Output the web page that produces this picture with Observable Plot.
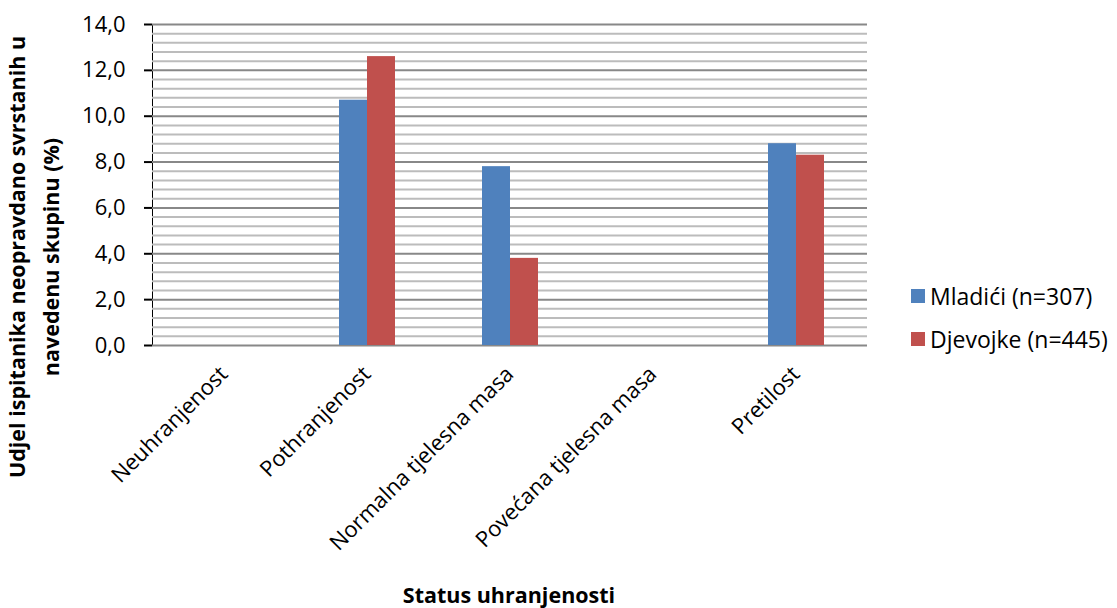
<!DOCTYPE html>
<html>
<head>
<meta charset="utf-8">
<script src="https://cdn.jsdelivr.net/npm/d3@7"></script>
<script src="https://cdn.jsdelivr.net/npm/@observablehq/plot@0.6"></script>
<style>
  html, body { margin: 0; padding: 0; background: #fff; }
  #wrap { position: relative; width: 1117px; height: 608px; font-family: "Open Sans", Lato, sans-serif; color: #000; }
  #wrap svg { position: absolute; left: 0; top: 0; }
  .ytitle { position: absolute; left: 34px; top: 257px; width: 640px; transform: translate(-50%, -50%) rotate(-90deg); text-align: center; font-weight: bold; font-size: 21.5px; line-height: 34px; white-space: nowrap; }
  .xtitle { position: absolute; left: 509px; top: 580px; transform: translateX(-50%); font-weight: bold; font-size: 21.5px; white-space: nowrap; }
  .legend { position: absolute; left: 911px; top: 281px; font-size: 23px; }
  .legend .item { display: flex; align-items: center; height: 30px; margin-bottom: 13px; white-space: nowrap; }
  .legend .sw { width: 14px; height: 14px; margin-right: 5px; }
</style>
</head>
<body>
<div id="wrap"></div>
<script>
const categories = ["Neuhranjenost", "Pothranjenost", "Normalna tjelesna masa", "Povećana tjelesna masa", "Pretilost"];
const seriesNames = ["Mladići (n=307)", "Djevojke (n=445)"];
const mladici = [0, 10.7, 7.8, 0, 8.8];
const djevojke = [0, 12.6, 3.8, 0, 8.3];
const seriesColors = ["#4F81BD", "#C0504D"];
const yTicks = [0, 2, 4, 6, 8, 10, 12, 14];
const yMinor = d3.range(0, 35).map(i => +(i * 0.4).toFixed(1)).filter(v => !yTicks.includes(v));
const yTitle = "Udjel ispitanika neopravdano svrstanih u\nnavedenu skupinu (%)";
const xTitle = "Status uhranjenosti";

const rows = [];
categories.forEach((c, i) => {
  rows.push({category: c, series: seriesNames[0], value: mladici[i]});
  rows.push({category: c, series: seriesNames[1], value: djevojke[i]});
});

const chart = Plot.plot({
  width: 1117,
  height: 608,
  marginLeft: 150,
  marginRight: 249,
  marginTop: 24,
  marginBottom: 263,
  style: {fontFamily: "'Open Sans', Lato, sans-serif", fontSize: "22px", color: "#000", background: "transparent", overflow: "visible"},
  fx: {domain: categories, padding: 0, label: null, tickRotate: -45, tickSize: 0, tickPadding: 25, axis: "bottom"},
  x: {domain: seriesNames, paddingInner: 0, paddingOuter: 1.476, axis: null},
  y: {domain: [0, 14], ticks: yTicks, tickFormat: d => d.toFixed(1).replace(".", ","), tickSize: 8, tickPadding: 19, label: null, line: true},
  color: {domain: seriesNames, range: seriesColors},
  marks: [
    Plot.ruleY(yMinor, {stroke: "#bcbcbc", strokeWidth: 2}),
    Plot.ruleY(yTicks, {stroke: "#888888", strokeWidth: 2}),
    Plot.barY(rows, {fx: "category", x: "series", y: "value", fill: "series"})
  ]
});
chart.querySelectorAll("[aria-label='y-axis tick'], [aria-label='y-axis line']").forEach(g => { g.setAttribute("stroke", "#888888"); g.setAttribute("stroke-width", 2); });

const wrap = document.getElementById("wrap");
wrap.appendChild(chart);

const yt = document.createElement("div");
yt.className = "ytitle";
yt.innerHTML = yTitle.split("\n").map(s => `<div>${s}</div>`).join("");
wrap.appendChild(yt);

const xt = document.createElement("div");
xt.className = "xtitle";
xt.textContent = xTitle;
wrap.appendChild(xt);

const lg = document.createElement("div");
lg.className = "legend";
seriesNames.forEach((s, i) => {
  const it = document.createElement("div");
  it.className = "item";
  it.innerHTML = `<span class="sw" style="background:${seriesColors[i]}"></span><span>${s}</span>`;
  lg.appendChild(it);
});
wrap.appendChild(lg);
</script>
</body>
</html>
